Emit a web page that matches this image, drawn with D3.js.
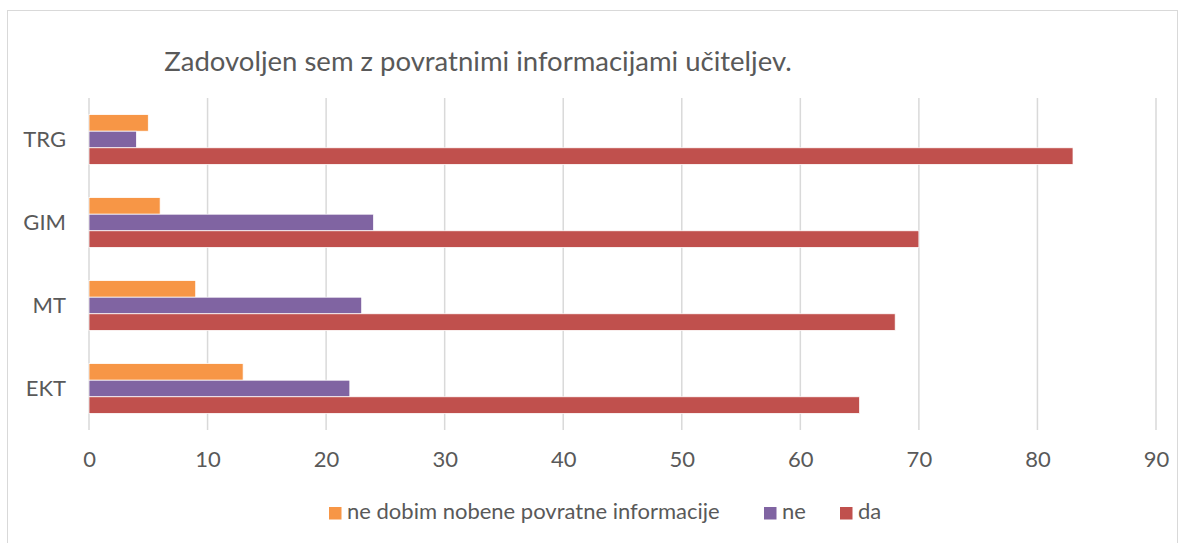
<!DOCTYPE html>
<html lang="sl">
  <head>
    <meta charset="UTF-8" />
    <title>Zadovoljen sem z povratnimi informacijami učiteljev.</title>
    <script src="https://cdn.jsdelivr.net/npm/d3@7"></script>
    <style>
      body { margin: 0; background: #fff; }
      text { font-family: Lato, 'Open Sans', sans-serif; fill: #595959; }
    </style>
  </head>
  <body>
    <svg width="1184" height="543"></svg>
  </body>

  <script>
    var categories = ['TRG', 'GIM', 'MT', 'EKT'];
    var seriesNames = ['ne dobim nobene povratne informacije', 'ne', 'da'];
    var nobene = [5, 6, 9, 13];
    var ne = [4, 24, 23, 22];
    var da = [83, 70, 68, 65];
    var xTicks = [0, 10, 20, 30, 40, 50, 60, 70, 80, 90];
    var colors = ['#F79646', '#8064A2', '#C0504D'];

    var values = [nobene, ne, da];
    var svg = d3.select('svg');

    // okvir grafa
    svg.append('rect')
      .attr('x', 7.5).attr('y', 10.5)
      .attr('width', 1170).attr('height', 560)
      .attr('fill', '#fff')
      .attr('stroke', '#d9d9d9');

    svg.append('text')
      .attr('x', 478).attr('y', 71)
      .attr('text-anchor', 'middle')
      .attr('font-size', 27.5)
      .text('Zadovoljen sem z povratnimi informacijami učiteljev.');

    var plot = { left: 89, right: 1156, top: 98, bottom: 430 };

    var x = d3.scaleLinear().domain([0, 90]).range([plot.left, plot.right]);
    var y = d3.scaleBand().domain(categories).range([plot.top, plot.bottom]).paddingInner(0.4).paddingOuter(0.2);
    var ySub = d3.scaleBand().domain(d3.range(seriesNames.length)).range([0, y.bandwidth()]);

    // mreža
    svg.append('g')
      .selectAll('line')
      .data(xTicks)
      .enter()
      .append('line')
      .attr('x1', function (d) { return x(d); })
      .attr('x2', function (d) { return x(d); })
      .attr('y1', plot.top)
      .attr('y2', plot.bottom)
      .attr('stroke', '#d9d9d9')
      .attr('stroke-width', 1.5);

    // os x
    var axisX = d3.axisBottom(x).tickValues(xTicks).tickSize(0).tickPadding(21);
    var gx = svg.append('g').attr('transform', 'translate(0,' + plot.bottom + ')').call(axisX);
    gx.select('.domain').remove();
    gx.selectAll('text').attr('font-size', 22).attr('font-family', null).attr('fill', null);

    // os y
    var axisY = d3.axisLeft(y).tickSize(0).tickPadding(23);
    var gy = svg.append('g').attr('transform', 'translate(' + plot.left + ',0)').call(axisY);
    gy.select('.domain').remove();
    gy.selectAll('text').attr('font-size', 22).attr('font-family', null).attr('fill', null);

    // stolpci
    var groups = svg.append('g')
      .selectAll('g')
      .data(categories)
      .enter()
      .append('g')
      .attr('transform', function (d) { return 'translate(0,' + y(d) + ')'; });

    groups.selectAll('rect')
      .data(function (d, i) {
        return values.map(function (s, j) { return { s: j, v: s[i] }; });
      })
      .enter()
      .append('rect')
      .attr('x', x(0))
      .attr('y', function (d) { return ySub(d.s); })
      .attr('width', function (d) { return x(d.v) - x(0); })
      .attr('height', ySub.bandwidth())
      .attr('fill', function (d) { return colors[d.s]; })
      .attr('stroke', '#fff')
      .attr('stroke-width', 0.75);

    // legenda
    var legendX = [329, 764, 840];
    var legend = svg.append('g')
      .selectAll('g')
      .data(seriesNames)
      .enter()
      .append('g')
      .attr('transform', function (d, i) { return 'translate(' + legendX[i] + ',507)'; });
    legend.append('rect')
      .attr('width', 12.5).attr('height', 12.5)
      .attr('fill', function (d, i) { return colors[i]; });
    legend.append('text')
      .attr('x', 18).attr('y', 12)
      .attr('font-size', 22)
      .text(function (d) { return d; });
  </script>
</html>
